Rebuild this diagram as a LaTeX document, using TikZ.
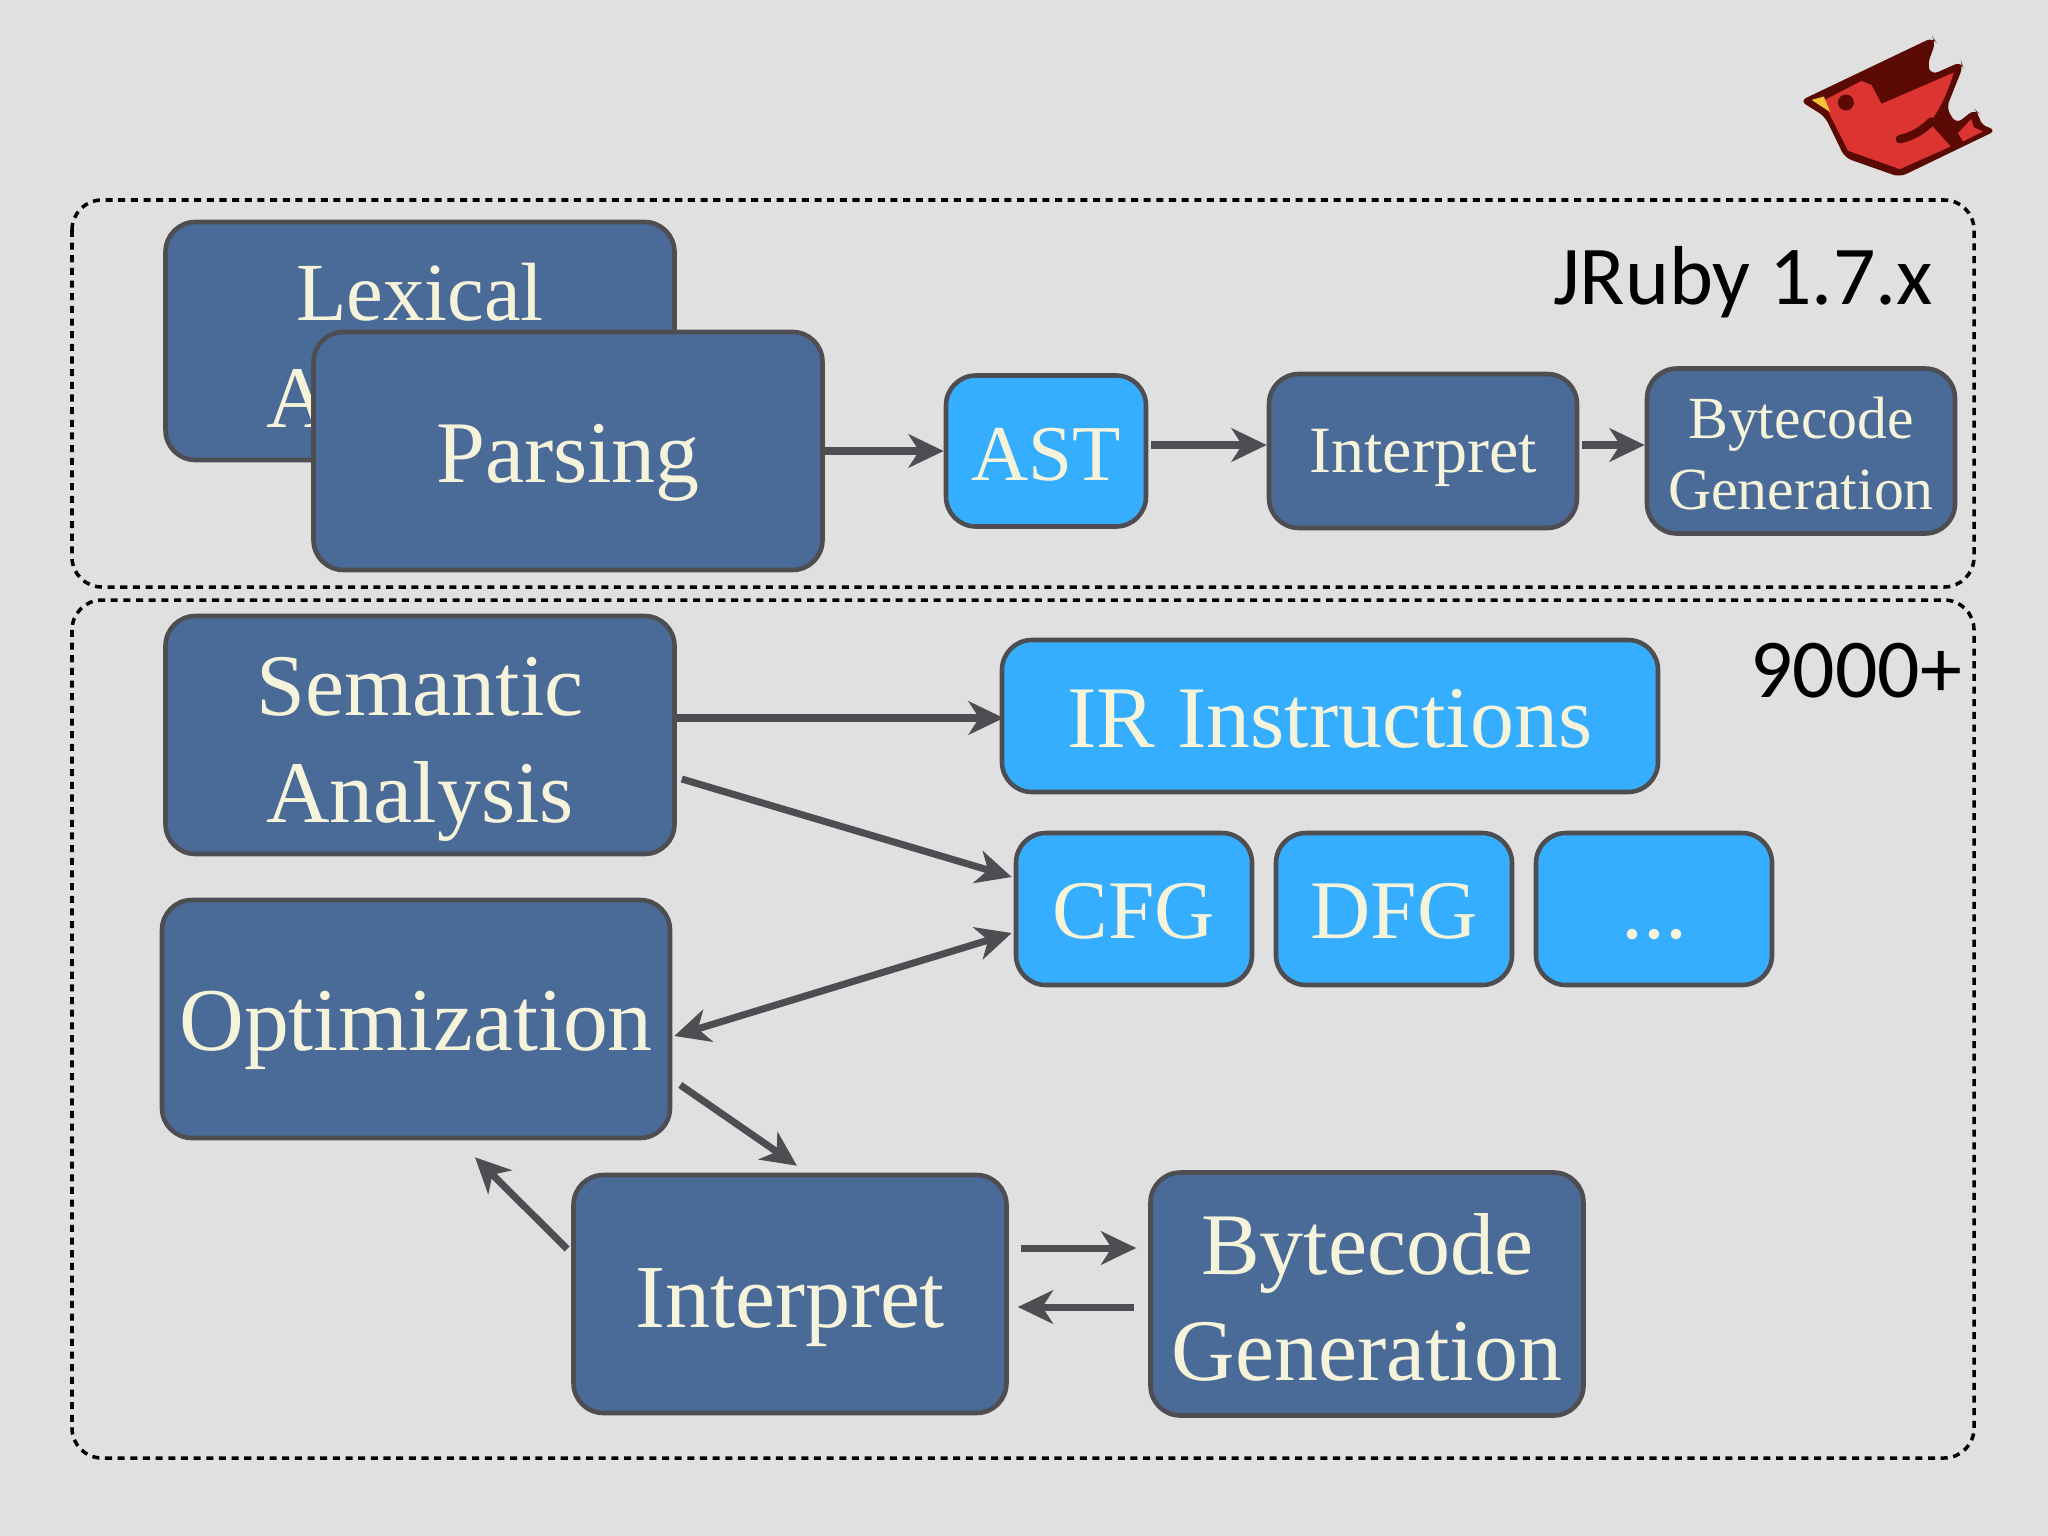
\documentclass[tikz,border=0pt]{standalone}
\usepackage{fontspec}
\setmainfont{Liberation Serif}
\newfontfamily\labelfont{Carlito}
\usetikzlibrary{arrows.meta}

\def\px{0.01cm}
\definecolor{paper}{HTML}{E0E0E1}
\definecolor{slate}{HTML}{4A6A97}
\definecolor{sky}{HTML}{35AEFF}
\definecolor{edge}{HTML}{4E4D52}
\definecolor{cream}{HTML}{F5F3DA}
\definecolor{birdred}{HTML}{DC3431}
\definecolor{birddark}{HTML}{5A0A03}
\definecolor{birdbeak}{HTML}{F5C23C}

\tikzset{
  wh/.style 2 args={minimum width=#1*\px, minimum height=#2*\px},
  box/.style={draw=edge, line width=1.3pt, rounded corners=8.5pt, text=cream,
    align=center, inner sep=0pt, text depth=0pt},
  slatebox/.style={box, fill=slate},
  skybox/.style={box, fill=sky},
  % size and baseline height of the text
  txt/.style 2 args={font=\fontsize{#1}{30.3}\selectfont, text height=#2},
  small/.style 2 args={font=\fontsize{#1}{20}\selectfont, text height=#2},
  frame/.style={draw=black, line width=1pt, rounded corners=8.5pt,
    dash pattern=on 2pt off 1.6pt},
  tag/.style={inner sep=0pt, text=black, font=\labelfont\fontsize{23.8}{28}\selectfont},
  link/.style={draw=edge, line width=2pt,
    -{Stealth[length=10pt, width=9.5pt, inset=3pt]}},
  twolink/.style={draw=edge, line width=2pt,
    {Stealth[length=10pt, width=9.5pt, inset=3pt]}-{Stealth[length=10pt, width=9.5pt, inset=3pt]}}
}

\begin{document}
\begin{tikzpicture}[x={(\px,0)}, y={(0,-\px)}]
\useasboundingbox (0,0) rectangle (2048,1536);
\fill[paper] (0,0) rectangle (2048,1536);

% dashed frames
\draw[frame] (72,200) rectangle (1974,587);
\draw[frame] (72,600) rectangle (1974,1458);
\node[tag] (old) at (1743,282) {JRuby 1.7.x};
\node[tag] (new) at (1856,671) {9000+};

% upper row
\node[slatebox, txt={25}{49pt}, wh={509}{238}] (lexical) at (420,341)
  {\fontsize{23.5}{30.3}\selectfont Lexical\\Analysis};
\node[slatebox, txt={25}{18pt}, wh={509}{238}] (parsing) at (568,451) {Parsing};
\node[skybox, txt={22.5}{16.7pt}, wh={200}{151}] (ast) at (1046,451) {AST};
\node[slatebox, small={18.8}{12.2pt}, wh={308}{154}] (interp) at (1423,451) {Interpret};
\node[slatebox, small={17}{33pt}, wh={308}{165}] (bytecode) at (1801,451) {Bytecode\\Generation};

\draw[link] (parsing.east) -- (ast.west);
\draw[link] ([shift={(3,-6)}]ast.east) -- ([shift={(0,-6)}]interp.west);
\draw[link] ([shift={(3,-6)}]interp.east) -- ([shift={(0,-6)}]bytecode.west);

% lower part
\node[slatebox, txt={25}{49.6pt}, wh={509}{238}] (semantic) at (420,735) {Semantic\\Analysis};
\node[skybox, txt={25}{17.8pt}, wh={656}{152}] (ir) at (1330,716) {IR Instructions};
\node[skybox, txt={23.7}{17pt}, wh={236}{152}] (cfg) at (1134,909) {CFG};
\node[skybox, txt={23.7}{17pt}, wh={236}{152}] (dfg) at (1394,909) {DFG};
\node[skybox, txt={25}{17pt}, wh={236}{152}] (more) at (1654,909) {...};
\node[slatebox, txt={25.5}{17.8pt}, wh={508}{238}] (optim) at (416,1019) {Optimization};
\node[slatebox, txt={25.6}{19.2pt}, wh={433}{238}] (interp2) at (790,1294) {Interpret};
\node[slatebox, txt={25}{49.3pt}, wh={433}{243}] (bytecode2) at (1367,1294) {Bytecode\\Generation};

\draw[link] ([shift={(0,-17)}]semantic.east) -- ([shift={(4,2)}]ir.west);
\draw[link] ([shift={(5,44)}]semantic.east) -- ([shift={(-2,-32)}]cfg.west);
\draw[twolink] ([shift={(2,17)}]optim.east) -- ([shift={(-2,24)}]cfg.west);
\draw[link] ([shift={(8,66)}]optim.east) -- ([shift={(7,-7)}]interp2.north);
\draw[link] ([shift={(-4,-45)}]interp2.west) -- ([shift={(59,17)}]optim.south);
\draw[link] ([shift={(12,-46)}]interp2.east) -- ([shift={(-12,-46)}]bytecode2.west);
\draw[link] ([shift={(-14,13)}]bytecode2.west) -- ([shift={(9,13)}]interp2.east);

% bird
\begin{scope}[shift={(1750,20)}, x={(0.00333cm,0)}, y={(0,-0.00333cm)}]
  \fill[birddark, rounded corners=2pt] (150,243) -- (550,52) -- (558,65) -- (533,135) -- (545,165)
    -- (635,125) -- (640,140) -- (590,265) -- (620,312) -- (675,268) -- (688,280) -- (690,312)
    -- (740,332) -- (450,472) -- (285,414) -- (225,290) -- cycle;
  \fill[birdred] (225,240) -- (335,183) -- (365,195) -- (395,252) -- (612,158)
    .. controls (590,230) and (570,265) .. (540,310) -- (603,380) -- (450,448) -- (295,393) -- (240,285) -- cycle;
  \fill[birdred] (625,340) -- (665,297) -- (672,322) -- (700,335) -- (640,365) -- cycle;
  \fill[birdbeak] (185,240) -- (222,230) -- (241,277) -- cycle;
  \fill[birddark] (288,248) circle (24);
  \draw[birddark, line width=2.4pt, line cap=round] (450,358) .. controls (490,350) and (520,330) .. (545,305);
\end{scope}
\end{tikzpicture}
\end{document}
